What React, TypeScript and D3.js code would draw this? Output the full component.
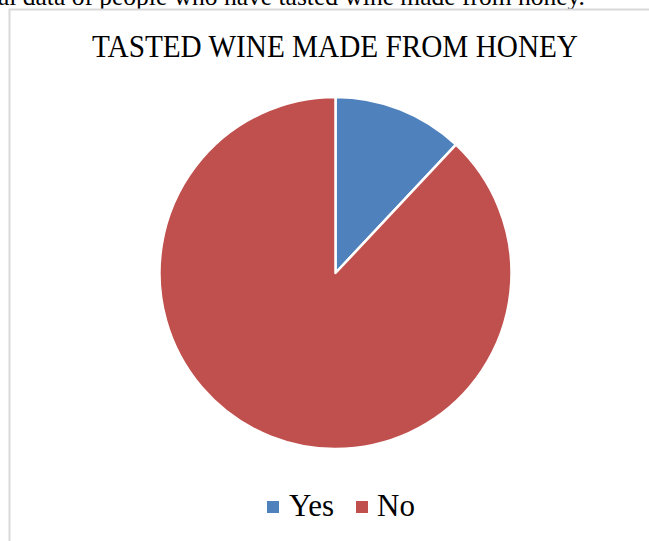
import React from "react";
import * as d3 from "d3";

const categories = ["Yes", "No"];
const values = [12, 88];
const colors = ["#4f81bd", "#c0504d"];
const title = "TASTED WINE MADE FROM HONEY";
const caption = "al data of people who have tasted wine made from honey.";

const W = 649;
const H = 541;

export default function App() {
  const cx = 335.5;
  const cy = 273;
  const r = 176;

  const pie = d3
    .pie<number>()
    .sort(null)
    .value((d) => d);
  const arcs = pie(values);
  const arc = d3.arc<d3.PieArcDatum<number>>().innerRadius(0).outerRadius(r);

  const font = "'Liberation Serif', 'Times New Roman', serif";

  // legend layout
  const legendY = 516;
  const legendItems = [
    { sq: 267, tx: 289 },
    { sq: 356, tx: 377 },
  ];

  return (
    <svg
      width={W}
      height={H}
      style={{ position: "absolute", left: 0, top: 0, background: "#fff" }}
      fontFamily={font}
    >
      <text x={-2} y={5} fontSize={25} textLength={587} lengthAdjust="spacingAndGlyphs" fill="#000">
        {caption}
      </text>
      <path d={`M9.5,${H} V9.5 H${W}`} fill="none" stroke="#d9d9d9" strokeWidth={2} />
      <text
        x={92}
        y={57}
        fontSize={31}
        textLength={486}
        lengthAdjust="spacingAndGlyphs"
        fill="#000"
      >
        {title}
      </text>
      <g transform={`translate(${cx},${cy})`}>
        {arcs.map((a, i) => (
          <path key={categories[i]} d={arc(a) || ""} fill={colors[i]} stroke="#fff" strokeWidth={2.5} strokeLinejoin="round" />
        ))}
      </g>
      {categories.map((c, i) => (
        <g key={c}>
          <rect x={legendItems[i].sq} y={501} width={12} height={12} fill={colors[i]} />
          <text x={legendItems[i].tx} y={legendY} fontSize={31} fill="#000">
            {c}
          </text>
        </g>
      ))}
    </svg>
  );
}
